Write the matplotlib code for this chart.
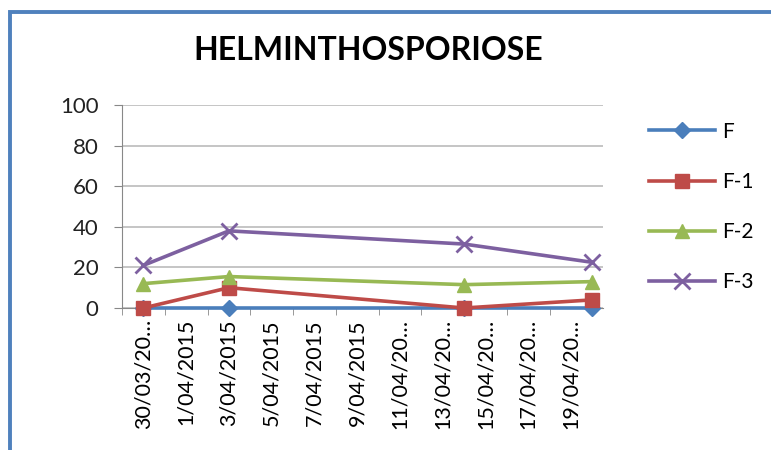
import matplotlib
matplotlib.use("Agg")
import matplotlib.pyplot as plt
import matplotlib.dates as mdates
from matplotlib.patches import Rectangle
import numpy as np
from datetime import date, timedelta

plt.rcParams['font.family'] = ['Lato', 'DejaVu Sans']

# data
dates = [date(2015, 3, 30), date(2015, 4, 3), date(2015, 4, 14), date(2015, 4, 20)]
f0 = [0, 0, 0, 0]
f1 = [0, 10, 0, 4]
f2 = [12, 15.5, 11.5, 13]
f3 = [21, 38, 31.5, 22.5]
series_names = ["F", "F-1", "F-2", "F-3"]
colors = ["#4A7EBB", "#BE4B48", "#98B954", "#7D60A0"]
markers = ["D", "s", "^", "x"]
msizes = [8, 10, 10, 12]

tick_dates = [date(2015, 3, 30) + timedelta(days=2 * i) for i in range(11)]
tick_labels = ["30/03/20…", "1/04/2015", "3/04/2015", "5/04/2015", "7/04/2015",
               "9/04/2015", "11/04/20…", "13/04/20…", "15/04/20…", "17/04/20…",
               "19/04/20…"]

fig = plt.figure(figsize=(7.71, 4.5), dpi=100)
# blue chart frame (cropped on the right and bottom)
fig.patches.append(Rectangle((10 / 771, -0.1), 1.2, 1.1 - 12 / 450,
                             transform=fig.transFigure, fill=False,
                             edgecolor="#4F81BD", linewidth=2.8))

ax = fig.add_axes([122 / 771, 1 - 308 / 450, 481 / 771, 203 / 450])

for vals, name, c, m, ms in zip([f0, f1, f2, f3], series_names, colors, markers, msizes):
    ax.plot(dates, vals, color=c, linewidth=2.6, marker=m, markersize=ms,
            markeredgewidth=2 if m == "x" else 1, markeredgecolor=c,
            label=name, clip_on=False, zorder=3)

ax.set_ylim(0, 100)
ax.set_yticks(np.arange(0, 101, 20))
ax.set_xlim(mdates.date2num(date(2015, 3, 30)) - 0.5, mdates.date2num(date(2015, 4, 20)) + 0.5)
ax.set_xticks([mdates.date2num(d) for d in tick_dates])
ax.set_xticklabels(tick_labels, rotation=90, fontsize=15.5)
ax.set_xticks([mdates.date2num(d) + 1 for d in tick_dates[:-1]] +
              [mdates.date2num(date(2015, 3, 30)) - 1], minor=True)
ax.tick_params(axis="x", which="major", length=0, pad=8)
ax.tick_params(axis="x", which="minor", length=5, color="#888888", direction="out")
ax.tick_params(axis="y", length=6, color="#888888", pad=11, labelsize=16, labelcolor="#222222")

ax.grid(axis="y", color="#BBBBBB", linewidth=1.2)
ax.set_axisbelow(True)
for s in ["top", "right"]:
    ax.spines[s].set_visible(False)
ax.spines["left"].set_color("#888888")
ax.spines["bottom"].set_color("#888888")

ax.set_ylabel("Incidence", fontsize=17.5, fontweight="bold")
ax.yaxis.label.set_transform(fig.transFigure)
ax.yaxis.label.set_position((33 / 771, 1 - 207 / 450))

fig.text(368 / 771, 1 - 50 / 450, "HELMINTHOSPORIOSE", fontsize=23, fontweight="bold",
         ha="center", va="center")

leg = ax.legend(loc="upper left", bbox_to_anchor=(630 / 771, 1 - 103 / 450),
                bbox_transform=fig.transFigure, frameon=False, fontsize=15,
                handlelength=3.2, labelspacing=1.45, handletextpad=0.3)

plt.savefig("out.png", dpi=100)
